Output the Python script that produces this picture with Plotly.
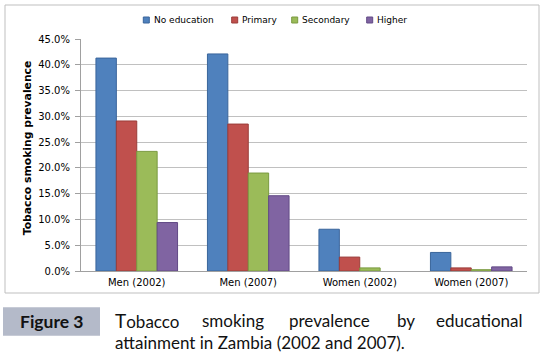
import plotly.graph_objects as go

categories = ["Men (2002)", "Men (2007)", "Women (2002)", "Women (2007)"]
no_education = [0.413, 0.421, 0.081, 0.036]
primary = [0.291, 0.285, 0.027, 0.006]
secondary = [0.232, 0.190, 0.006, 0.0025]
higher = [0.094, 0.146, 0.0, 0.008]
series_names = ["No education", "Primary", "Secondary", "Higher"]
y_ticks = [0, 0.05, 0.10, 0.15, 0.20, 0.25, 0.30, 0.35, 0.40, 0.45]

colors = ["#4F81BD", "#C0504D", "#9BBB59", "#8064A2"]
edges = ["#3A659B", "#9A3C39", "#7A9A40", "#624A86"]

W, H = 548, 356
L, R, T, B = 81, 21, 39, 85
PW, PH = W - L - R, H - T - B


def px(x):
    return (x - L) / PW


def py(y):
    return (H - B - y) / PH


fig = go.Figure()
for name, vals, c, e in zip(series_names, [no_education, primary, secondary, higher], colors, edges):
    fig.add_trace(go.Bar(x=categories, y=vals, name=name,
                         marker=dict(color=c, line=dict(color=e, width=[1 if v > 0 else 0 for v in vals])),
                         showlegend=False))

shapes = []
annotations = []
# outer chart border
shapes.append(dict(type="rect", xref="paper", yref="paper", x0=px(5), x1=px(539), y0=py(293), y1=py(5),
                   line=dict(color="#BFBFBF", width=1), fillcolor="rgba(0,0,0,0)", layer="below"))
# legend
leg_x = [143.3, 231.7, 291.7, 366.7]
for name, c, e, lx in zip(series_names, colors, edges, leg_x):
    shapes.append(dict(type="rect", xref="paper", yref="paper", x0=px(lx), x1=px(lx + 6), y0=py(23), y1=py(17),
                       line=dict(color=e, width=1), fillcolor=c))
    annotations.append(dict(text=name, xref="paper", yref="paper", x=px(lx + 8.4), y=py(20), xanchor="left",
                            yanchor="middle", showarrow=False,
                            font=dict(family="DejaVu Sans", size=9, color="#000")))
# y axis title
annotations.append(dict(text="<b>Tobacco smoking prevalence</b>", xref="paper", yref="paper", x=px(27.3), y=py(148),
                        textangle=-90, xanchor="center", yanchor="middle", showarrow=False,
                        font=dict(family="DejaVu Sans", size=10.8, color="#000")))
# caption box
shapes.append(dict(type="rect", xref="paper", yref="paper", x0=px(3), x1=px(100), y0=py(335.7), y1=py(307.3),
                   line=dict(width=0), fillcolor="#B4BAC9"))
annotations.append(dict(text="<b>Figure 3</b>", xref="paper", yref="paper", x=px(51.5), y=py(321.5),
                        xanchor="center", yanchor="middle", showarrow=False,
                        font=dict(family="Lato", size=17.5, color="#111")))
cap_words = ["<span style='font-size:19px'>T</span>obacco", "smoking", "prevalence", "by"]
cap_x = [112.7, 200, 287.4, 395]
for wd, wx in zip(cap_words, cap_x):
    annotations.append(dict(text=wd, xref="paper", yref="paper", x=px(wx), y=py(320), xanchor="left",
                            yanchor="middle", showarrow=False, font=dict(family="Lato", size=17, color="#111")))
annotations.append(dict(text="educational", xref="paper", yref="paper", x=px(525), y=py(320), xanchor="right",
                        yanchor="middle", showarrow=False, font=dict(family="Lato", size=17, color="#111")))
annotations.append(dict(text="attainment in Zambia (2002 and 2007).", xref="paper", yref="paper", x=px(112.7),
                        y=py(342.7), xanchor="left", yanchor="middle", showarrow=False,
                        font=dict(family="Lato", size=17, color="#111")))

fig.update_layout(
    width=W, height=H, autosize=False,
    margin=dict(l=L, r=R, t=T, b=B, pad=0),
    paper_bgcolor="white", plot_bgcolor="white",
    barmode="group", bargap=0.268, bargroupgap=0,
    shapes=shapes, annotations=annotations,
    font=dict(family="DejaVu Sans", size=10, color="#000"),
)
fig.update_yaxes(range=[0, 0.45], tickvals=y_ticks, tickformat=".1%", showgrid=True, gridcolor="#C0C0C0",
                 gridwidth=1, zeroline=False, showline=True, linecolor="#A0A0A0", linewidth=1,
                 ticks="outside", ticklen=5, tickcolor="#A0A0A0", ticklabelstandoff=3,
                 tickfont=dict(family="DejaVu Sans", size=10, color="#000"))
fig.update_xaxes(showline=True, linecolor="#A0A0A0", linewidth=1, ticks="", showgrid=False,
                 tickfont=dict(family="DejaVu Sans", size=10, color="#000"), ticklabelstandoff=2)

fig.write_html("out.html", config={"displayModeBar": False},
               post_script="document.body.style.margin='0px';document.body.style.overflow='hidden';")
